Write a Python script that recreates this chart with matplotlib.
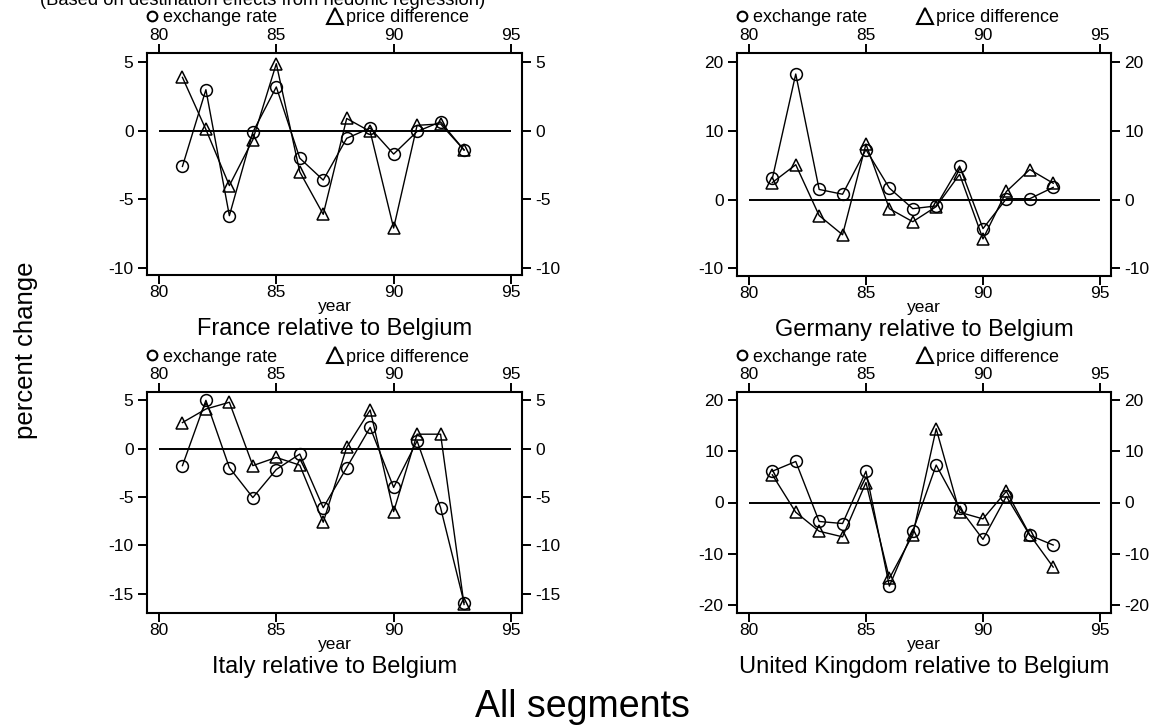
import matplotlib
matplotlib.use("Agg")
import matplotlib.pyplot as plt
from matplotlib.lines import Line2D

plt.rcParams['font.family'] = ['Liberation Sans', 'DejaVu Sans']
plt.rcParams['axes.unicode_minus'] = False

years = [81, 82, 83, 84, 85, 86, 87, 88, 89, 90, 91, 92, 93]

france_exch = [-2.6, 3.0, -6.2, -0.1, 3.2, -2.0, -3.6, -0.55, 0.2, -1.7, -0.05, 0.65, -1.4]
france_price = [3.9, 0.1, -4.0, -0.65, 4.9, -3.0, -6.1, 0.9, -0.05, -7.1, 0.4, 0.5, -1.4]

germany_exch = [3.1, 18.3, 1.5, 0.8, 7.3, 1.7, -1.3, -0.9, 4.9, -4.2, 0.15, 0.15, 1.8]
germany_price = [2.5, 5.1, -2.3, -5.1, 8.1, -1.3, -3.2, -1.0, 3.7, -5.7, 1.2, 4.4, 2.4]

italy_exch = [-1.75, 5.0, -1.95, -5.05, -2.15, -0.55, -6.1, -1.95, 2.2, -4.0, 0.8, -6.1, -15.9]
italy_price = [2.7, 4.1, 4.8, -1.75, -0.9, -1.7, -7.6, 0.15, 4.0, -6.5, 1.5, 1.5, -16.1]

uk_exch = [6.1, 8.0, -3.7, -4.1, 6.1, -16.3, -5.6, 7.3, -1.1, -7.2, 1.2, -6.4, -8.3]
uk_price = [5.4, -1.9, -5.6, -6.7, 3.9, -14.8, -6.3, 14.4, -1.9, -3.2, 2.2, -6.3, -12.6]

panel_titles = ["France relative to Belgium", "Germany relative to Belgium",
                "Italy relative to Belgium", "United Kingdom relative to Belgium"]
exch_series = [france_exch, germany_exch, italy_exch, uk_exch]
price_series = [france_price, germany_price, italy_price, uk_price]
yticks_list = [[-10, -5, 0, 5], [-10, 0, 10, 20], [-15, -10, -5, 0, 5], [-20, -10, 0, 10, 20]]
ylims = [(-10.53, 5.68), (-11.1, 21.36), (-16.98, 5.86), (-21.55, 21.55)]
xticks = [80, 85, 90, 95]
legend_labels = ["exchange rate", "price difference"]

W, H = 1164, 728
fig = plt.figure(figsize=(W / 100, H / 100), dpi=100)

# axes boxes in pixels: left, top, right, bottom
boxes = [(147, 53, 522, 275), (737, 53, 1111, 276),
         (147, 392, 522, 613), (737, 392, 1111, 613)]

def fx(x):
    return x / W

def fy(y):
    return 1 - y / H

for i, (l, t, r, b) in enumerate(boxes):
    ax = fig.add_axes([fx(l), fy(b), (r - l) / W, (b - t) / H])
    ax.set_xlim(79.49, 95.47)
    ax.set_ylim(*ylims[i])
    ax.hlines(0, 80, 95, color='black', lw=1.4, zorder=1)
    ax.plot(years, exch_series[i], color='black', lw=1.0, marker='o', ms=8.5,
            mfc='none', mec='black', mew=1.1, zorder=3)
    ax.plot(years, price_series[i], color='black', lw=1.0, marker='^', ms=9,
            mfc='none', mec='black', mew=1.1, zorder=3)
    ax.set_xticks(xticks)
    ax.set_yticks(yticks_list[i])
    ax.tick_params(axis='both', which='both', direction='out', length=6.2, width=1.4,
                   labelsize=12.5, top=True, right=True,
                   labeltop=True, labelright=True, colors='black')
    ax.tick_params(axis='x', pad=1)
    ax.tick_params(axis='y', pad=3.5)
    for s in ax.spines.values():
        s.set_linewidth(1.5)
    ax.set_xlabel('year', fontsize=12.5, labelpad=-1)
    ax.text(0.5, -60 / (b - t), panel_titles[i], transform=ax.transAxes,
            ha='center', va='baseline', fontsize=17)
    handles = [Line2D([], [], ls='none', marker='o', ms=7, mfc='none', mec='black', mew=1.5),
               Line2D([], [], ls='none', marker='^', ms=11, mfc='none', mec='black', mew=1.5)]
    ax.legend(handles, legend_labels, loc='center left', ncol=2, frameon=False,
              bbox_to_anchor=(-1 / (r - l), 1 + 35 / (b - t)), borderaxespad=0, borderpad=0,
              handlelength=0.66, handletextpad=0.3, columnspacing=2.85, fontsize=13)

fig.text(fx(40), fy(5), "(Based on destination effects from hedonic regression)",
         ha='left', va='baseline', fontsize=13.2)
fig.text(fx(26), fy(350), "percent change", rotation=90, ha='center', va='center', fontsize=18.5)
fig.text(fx(582), fy(717), "All segments", ha='center', va='baseline', fontsize=27)

fig.savefig("out.png", dpi=100)
